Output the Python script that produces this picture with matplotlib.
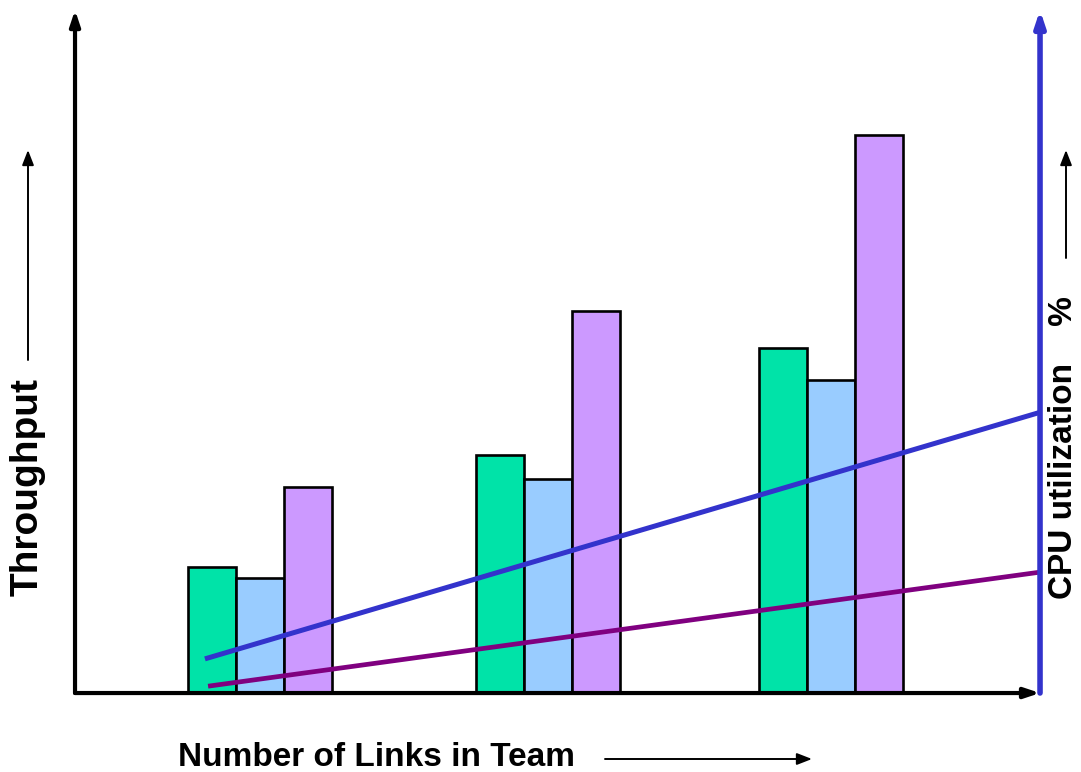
"""Throughput and CPU utilisation vs number of links in a team."""

import matplotlib.pyplot as plt

plt.rcParams["font.family"] = ["Liberation Sans", "DejaVu Sans"]

# group positions (number of links, schematic) and bar values (throughput, arbitrary units)
groups = [1, 2.01, 3]
series_a = [18.4, 34.8, 50.5]
series_b = [16.8, 31.3, 45.8]
series_c = [30.2, 55.9, 81.7]

# CPU utilisation lines (start / end points)
cpu_x_blue = [0.807, 3.732]
cpu_blue = [5.0, 41.1]
cpu_x_purple = [0.818, 3.732]
cpu_purple = [1.0, 17.7]

BAR_COLORS = ["#00E3A8", "#99CCFF", "#CC99FF"]
BAR_W = 0.168


def main() -> None:
    fig = plt.figure(figsize=(10.81, 7.72), dpi=100)
    ax = fig.add_axes([0.0694, 0.1023, 0.8927, 0.8847])
    ax.set_xlim(0.352, 3.732)
    ax.set_ylim(0, 100)

    for i, vals in enumerate([series_a, series_b, series_c]):
        xs = [g + (i - 1) * BAR_W for g in groups]
        ax.bar(xs, vals, width=BAR_W, color=BAR_COLORS[i],
               edgecolor="black", linewidth=1.9, zorder=2)

    ax.plot(cpu_x_blue, cpu_blue, color="#3333CC", lw=3.6,
            solid_capstyle="butt", zorder=3, clip_on=False)
    ax.plot(cpu_x_purple, cpu_purple, color="#800080", lw=3.4,
            solid_capstyle="butt", zorder=3, clip_on=False)

    for s in ax.spines.values():
        s.set_visible(False)
    ax.set_xticks([])
    ax.set_yticks([])

    # axes drawn as arrows
    arrow_k = dict(arrowstyle="-|>,head_length=0.9,head_width=0.3",
                   shrinkA=0, shrinkB=0)
    ax.annotate("", xy=(0, 1.0), xytext=(0, 0), xycoords="axes fraction",
                arrowprops=dict(color="black", lw=3, **arrow_k))
    ax.annotate("", xy=(1.0, 0), xytext=(0, 0), xycoords="axes fraction",
                arrowprops=dict(color="black", lw=3, **arrow_k))
    ax.annotate("", xy=(1.0, 1.0), xytext=(1.0, 0), xycoords="axes fraction",
                arrowprops=dict(color="#3333CC", lw=4, **arrow_k))

    # labels with small arrows
    small = dict(arrowstyle="-|>,head_length=0.9,head_width=0.35",
                 color="black", lw=1.4, shrinkA=0, shrinkB=0)
    fig.text(28 / 1081, 1 - 487 / 772, "Throughput", rotation=90,
             fontsize=28, fontweight="bold", ha="center", va="center")
    fig.add_artist(plt.Annotation("", xy=(28 / 1081, 1 - 150 / 772),
                                  xytext=(28 / 1081, 1 - 360 / 772),
                                  xycoords="figure fraction", arrowprops=small))

    fig.text(1064 / 1081, 1 - 448 / 772, "CPU utilization    %", rotation=90,
             fontsize=24, fontweight="bold", ha="center", va="center")
    fig.add_artist(plt.Annotation("", xy=(1066 / 1081, 1 - 150 / 772),
                                  xytext=(1066 / 1081, 1 - 258 / 772),
                                  xycoords="figure fraction", arrowprops=small))

    fig.text(377 / 1081, 1 - 757 / 772, "Number of Links in Team",
             fontsize=24, fontweight="bold", ha="center", va="center")
    fig.add_artist(plt.Annotation("", xy=(812 / 1081, 1 - 759 / 772),
                                  xytext=(605 / 1081, 1 - 759 / 772),
                                  xycoords="figure fraction", arrowprops=small))

    fig.savefig("out.png", dpi=100)


if __name__ == "__main__":
    main()
